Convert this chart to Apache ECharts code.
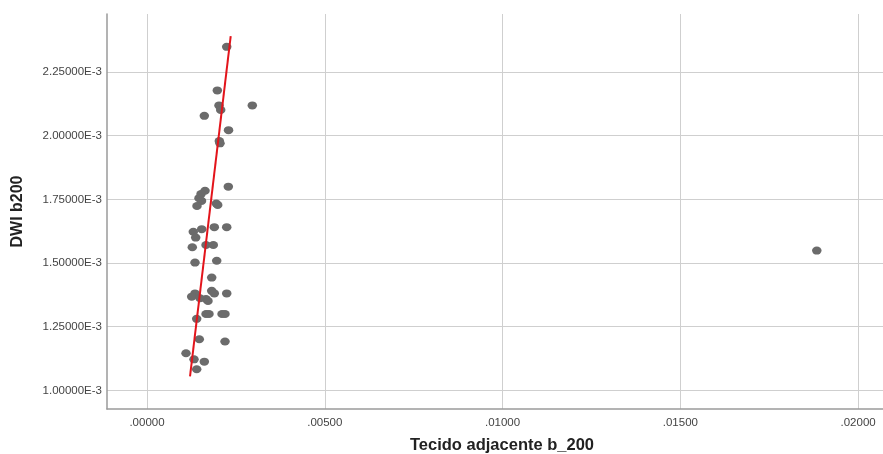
<!DOCTYPE html>
<html>
<head>
<meta charset="utf-8">
<script src="https://cdn.jsdelivr.net/npm/echarts@6/dist/echarts.min.js"></script>
<style>
  html, body { margin: 0; padding: 0; background: #fff; }
  #chart { width: 883px; height: 454px; }
</style>
</head>
<body>
<div id="chart"></div>
<script>
// Tecido adjacente b_200 (x) against DWI b200 (y), one pair per case
const tecidoB200 = [
  0.002242, 0.001978, 0.002025, 0.002073, 0.002962, 0.001612, 0.002293, 0.002034,
  0.002053, 0.002287, 0.001632, 0.001519, 0.001463, 0.001533, 0.001406, 0.001989,
  0.001949, 0.001893, 0.002242, 0.001539, 0.001302, 0.001370, 0.001274, 0.001660,
  0.001865, 0.001350, 0.001961, 0.001820, 0.001350, 0.001257, 0.001820, 0.001893,
  0.002242, 0.001491, 0.001660, 0.001716, 0.001660, 0.001744, 0.002110, 0.002194,
  0.001398, 0.001471, 0.002194, 0.001097, 0.001322, 0.001612, 0.001398, 0.018838
];
const dwiB200 = [
  0.002349, 0.002178, 0.002119, 0.002101, 0.002119, 0.002078, 0.002022, 0.001979,
  0.001970, 0.001800, 0.001784, 0.001771, 0.001755, 0.001744, 0.001724, 0.001728,
  0.001734, 0.001641, 0.001641, 0.001633, 0.001623, 0.001600, 0.001562, 0.001571,
  0.001571, 0.001502, 0.001509, 0.001443, 0.001381, 0.001368, 0.001391, 0.001381,
  0.001381, 0.001362, 0.001359, 0.001351, 0.001300, 0.001300, 0.001300, 0.001300,
  0.001281, 0.001201, 0.001192, 0.001146, 0.001122, 0.001113, 0.001083, 0.001549
];

// Fitted line end points
const fitX = [0.001210, 0.002354];
const fitY = [0.001055, 0.002391];

// Axis ticks
const xTicks = [0, 0.005, 0.01, 0.015, 0.02];
const yTicks = [0.001, 0.00125, 0.0015, 0.00175, 0.002, 0.00225];

const points = tecidoB200.map((x, i) => [x, dwiB200[i]]);
const fitLine = fitX.map((x, i) => [x, fitY[i]]);

const chart = echarts.init(document.getElementById('chart'), null, { renderer: 'canvas' });

const labelFont = { fontFamily: 'Liberation Sans, Arial, sans-serif', fontSize: 11.5, color: '#444' };
const gridLine = { show: true, lineStyle: { color: '#cfcfcf', width: 1 } };

chart.setOption({
  animation: false,
  backgroundColor: '#ffffff',
  grid: { left: 107, top: 14, right: 0, bottom: 45, outerBoundsMode: 'none', containLabel: false },
  xAxis: {
    type: 'value',
    min: -0.001125,
    max: 0.0207,
    name: 'Tecido adjacente b_200',
    nameLocation: 'middle',
    nameGap: 28,
    nameTextStyle: {
      fontFamily: 'Liberation Sans, Arial, sans-serif',
      fontSize: 16.5,
      fontWeight: 'bold',
      color: '#222',
      padding: [0, 0, 0, 14]
    },
    axisLine: { show: true, onZero: false, lineStyle: { color: '#9a9a9a', width: 1.5 } },
    axisTick: { show: false, customValues: xTicks },
    axisLabel: {
      ...labelFont,
      margin: 8,
      customValues: xTicks,
      formatter: v => v.toFixed(5).replace(/^0/, '')
    },
    splitLine: gridLine
  },
  yAxis: {
    type: 'value',
    min: 0.000927,
    max: 0.002478,
    name: 'DWI b200',
    nameLocation: 'middle',
    nameGap: 81,
    nameTextStyle: { fontFamily: 'Liberation Sans, Arial, sans-serif', fontSize: 16, fontWeight: 'bold', color: '#222' },
    axisLine: { show: true, onZero: false, lineStyle: { color: '#9a9a9a', width: 1.5 } },
    axisTick: { show: false, customValues: yTicks },
    axisLabel: {
      ...labelFont,
      margin: 5,
      customValues: yTicks,
      formatter: v => (v * 1000).toFixed(5) + 'E-3'
    },
    splitLine: gridLine
  },
  series: [
    {
      type: 'scatter',
      data: points,
      symbol: 'circle',
      symbolSize: [9.5, 8],
      itemStyle: { color: '#6b6b6b', opacity: 1 },
      z: 2
    },
    {
      type: 'line',
      data: fitLine,
      symbol: 'none',
      lineStyle: { color: '#e3141b', width: 2 },
      z: 3
    }
  ]
});
</script>
</body>
</html>
